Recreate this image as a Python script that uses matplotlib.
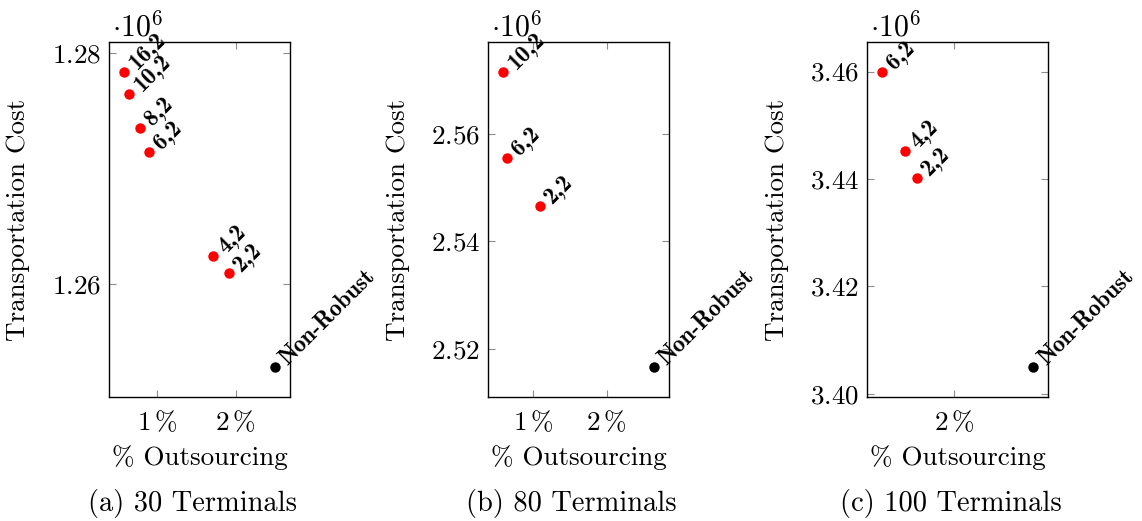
import matplotlib
matplotlib.use('Agg')
import matplotlib.pyplot as plt
from matplotlib.ticker import FixedLocator, FuncFormatter

plt.rcParams['mathtext.fontset'] = 'cm'
plt.rcParams['font.family'] = ['cmr10', 'DejaVu Serif']
plt.rcParams['axes.formatter.use_mathtext'] = True

# data: x = % outsourcing, y = transportation cost [10^6]
labels_30 = ['16,2', '10,2', '8,2', '6,2', '4,2', '2,2', 'Non-Robust']
x_30 = [0.584, 0.648, 0.784, 0.902, 1.716, 1.915, 2.499]
y_30 = [1.27837, 1.27645, 1.27350, 1.27144, 1.26243, 1.26095, 1.25283]

labels_80 = ['10,2', '6,2', '2,2', 'Non-Robust']
x_80 = [0.601, 0.647, 1.099, 2.646]
y_80 = [2.57159, 2.55556, 2.54654, 2.51659]

labels_100 = ['6,2', '4,2', '2,2', 'Non-Robust']
x_100 = [1.321, 1.536, 1.648, 2.750]
y_100 = [3.46000, 3.44523, 3.44015, 3.40490]

xticks_30 = [1, 2]
yticks_30 = [1.26, 1.28]
xticks_80 = [1, 2]
yticks_80 = [2.52, 2.54, 2.56]
xticks_100 = [2]
yticks_100 = [3.40, 3.42, 3.44, 3.46]

captions = ['(a) 30 Terminals', '(b) 80 Terminals', '(c) 100 Terminals']

panels = [
    (labels_30, x_30, y_30, xticks_30, yticks_30),
    (labels_80, x_80, y_80, xticks_80, yticks_80),
    (labels_100, x_100, y_100, xticks_100, yticks_100),
]

FS = 19.5
LFS = 17
lefts = [0.0954, 0.4276, 0.7595]

fig = plt.figure(figsize=(11.42, 5.21), dpi=100)

for i, (labels, xs, ys, xt, yt) in enumerate(panels):
    ax = fig.add_axes([lefts[i], 0.238, 0.1585, 0.6814])
    for lab, x, y in zip(labels, xs, ys):
        color = 'black' if lab == 'Non-Robust' else 'red'
        ax.plot(x, y, 'o', color=color, markersize=7.5, markeredgewidth=0)
        ax.annotate(lab, (x, y), xytext=(9, 1), textcoords='offset points',
                    rotation=45, rotation_mode='anchor', ha='left', va='baseline',
                    fontsize=LFS, fontfamily='cmb10', annotation_clip=False)
    ax.margins(0.1)
    ax.xaxis.set_major_locator(FixedLocator(xt))
    ax.yaxis.set_major_locator(FixedLocator(yt))
    ax.xaxis.set_major_formatter(FuncFormatter(lambda v, p: r'$%d\,\%%$' % round(v)))
    ax.yaxis.set_major_formatter(FuncFormatter(lambda v, p: r'$%.2f$' % v))
    ax.tick_params(direction='in', top=True, right=True, length=5, width=0.8,
                   color='0.55', labelsize=FS)
    ax.tick_params(axis='x', pad=9)
    ax.tick_params(axis='y', pad=6)
    for sp in ax.spines.values():
        sp.set_linewidth(1.0)
    ax.set_xlabel('% Outsourcing', fontsize=FS)
    ax.set_ylabel('Transportation Cost', fontsize=FS)
    ax.xaxis.set_label_coords(0.5, -0.135)
    ax.yaxis.set_label_coords(-0.435, 0.5)
    ax.text(0.015, 1.0, r'$\cdot 10^{6}$', transform=ax.transAxes, fontsize=21.5,
            ha='left', va='bottom')
    ax.text(0.46, -0.2986, captions[i], transform=ax.transAxes, fontsize=20.5,
            ha='center', va='center')

fig.savefig('out.png', dpi=100)
